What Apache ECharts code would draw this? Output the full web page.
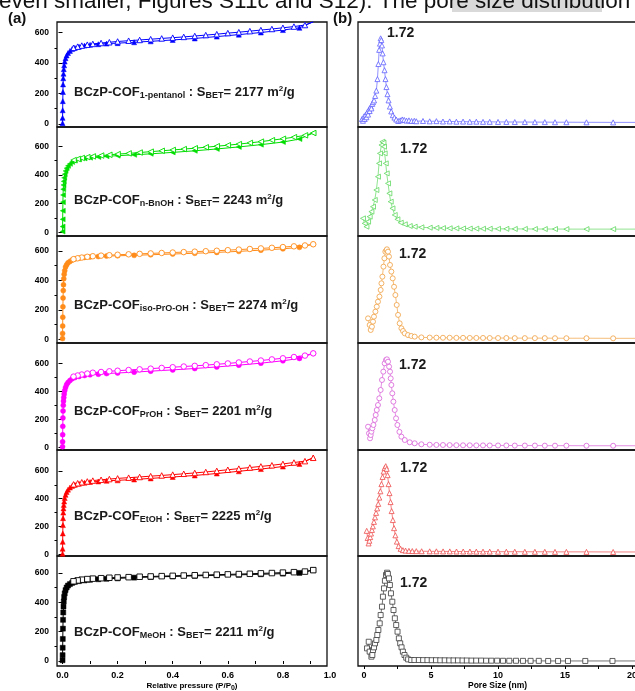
<!DOCTYPE html>
<html><head><meta charset="utf-8">
<script src="https://cdn.jsdelivr.net/npm/echarts@6/dist/echarts.min.js"></script>
<style>html,body{margin:0;padding:0;background:#fff}#c{width:635px;height:691px}</style>
</head><body><div id="c"></div>
<script>
// ---------- DATA ----------
const sampleSubs = ['1-pentanol', 'n-BnOH', 'iso-PrO-OH', 'PrOH', 'EtOH', 'MeOH'];
const sbetValues = [2177, 2243, 2274, 2201, 2225, 2211];
const peakLabels = ['1.72', '1.72', '1.72', '1.72', '1.72', '1.72'];

// N2 isotherms: relative pressure grids (adsorption / desorption)
const adsP = [0.0001,0.0003,0.0006,0.001,0.0015, 0.002,0.0027,0.0035,0.0045,0.006, 0.008,0.011,0.015,0.02,0.027, 0.035,0.045,0.06,0.08,0.1, 0.13,0.16,0.2,0.26,0.32, 0.4,0.48,0.56,0.64,0.72, 0.8,0.86,0.91];
const desP = [0.91,0.88,0.84,0.8,0.76, 0.72,0.68,0.64,0.6,0.56, 0.52,0.48,0.44,0.4,0.36, 0.32,0.28,0.24,0.2,0.17, 0.14,0.11,0.09,0.07,0.055, 0.04];

const adsPentanol = [5,40,90,150,210, 260,300,330,360,385, 410,432,450,466,480, 492,500,508,515,520, 524,528,531,537,543, 552,562,574,587,601, 617,632,671];
const desPentanol = [671,650,640,632,624, 617,610,603,597,590, 584,578,572,567,562, 557,552,547,542,537, 532,526,521,515,508, 500];
const adsBnOH = [5,40,90,150,210, 260,300,330,355,380, 405,428,447,463,477, 490,500,508,515,520, 525,530,534,540,547, 557,568,581,595,611, 629,650,692];
const desBnOH = [692,676,663,652,642, 632,623,615,607,600, 593,586,580,574,568, 562,556,550,545,540, 535,529,524,518,511, 503];
const adsIsoPrO = [5,40,90,150,220, 280,330,370,410,440, 465,490,505,518,528, 537,545,550,555,558, 561,564,566,569,573, 578,583,589,596,604, 613,623,644];
const desIsoPrO = [644,636,630,625,620, 616,612,608,604,600, 597,594,591,588,585, 582,579,576,573,570, 567,563,559,554,549, 543];
const adsPrOH = [5,40,90,150,210, 260,300,330,355,380, 405,428,448,463,477, 490,498,506,513,518, 522,527,531,537,544, 553,563,574,587,601, 618,635,671];
const desPrOH = [671,655,645,636,628, 620,613,606,599,593, 587,582,577,572,567, 562,557,552,547,543, 538,533,527,520,513, 505];
const adsEtOH = [5,40,90,150,210, 260,300,330,355,380, 405,428,448,465,480, 492,500,508,515,520, 524,529,532,538,546, 556,567,581,597,613, 631,650,694];
const desEtOH = [694,670,660,650,640, 632,624,616,608,600, 592,585,579,573,567, 562,556,551,546,541, 536,530,524,518,511, 503];
const adsMeOH = [5,40,90,150,220, 280,330,370,405,435, 460,482,500,513,523, 531,538,543,548,552, 556,559,562,567,571, 575,579,583,586,590, 594,599,618];
const desMeOH = [618,608,604,601,598, 596,593,591,589,587, 585,583,581,579,577, 575,573,570,568,566, 563,560,557,553,548, 542];

// Pore size distributions [pore size (nm), relative intensity]
const psdPentanol = [[0.30,0.09],[0.37,0.07],[0.45,0.12],[0.50,0.09],[0.57,0.14],[0.63,0.11],[0.70,0.17],[0.75,0.14],[0.82,0.20],[0.87,0.18],[0.95,0.23],[1.00,0.21],[1.06,0.26],[1.12,0.28],[1.20,0.30],[1.28,0.35],[1.37,0.41],[1.45,0.54],[1.52,0.71],[1.58,0.87],[1.64,0.94],[1.69,1.00],[1.74,0.98],[1.79,0.92],[1.84,0.83],[1.90,0.73],[1.98,0.64],[2.05,0.54],[2.12,0.45],[2.20,0.37],[2.28,0.30],[2.38,0.23],[2.48,0.175],[2.60,0.133],[2.72,0.106],[2.85,0.084],[3.00,0.068],[3.15,0.075],[3.30,0.085],[3.45,0.08],[3.62,0.072],[3.80,0.075],[4.00,0.068],[4.20,0.07],[4.35,0.065],[4.85,0.068],[5.35,0.064],[5.85,0.066],[6.34,0.062],[6.84,0.063],[7.34,0.06],[7.84,0.061],[8.34,0.059],[8.83,0.06],[9.33,0.058],[9.83,0.058],[10.45,0.057],[11.07,0.057],[11.70,0.056],[12.45,0.056],[13.20,0.055],[13.94,0.055],[14.70,0.054],[15.55,0.054],[17.05,0.053],[19.04,0.052],[22.0,0.052]];
const psdBnOH = [[0.27,0.187],[0.40,0.134],[0.53,0.099],[0.65,0.152],[0.77,0.205],[0.90,0.258],[1.02,0.311],[1.15,0.382],[1.27,0.488],[1.39,0.629],[1.47,0.77],[1.54,0.876],[1.65,0.965],[1.72,1.0],[1.80,0.989],[1.84,0.947],[1.89,0.876],[1.97,0.77],[2.04,0.664],[2.14,0.558],[2.24,0.452],[2.34,0.364],[2.47,0.293],[2.64,0.223],[2.84,0.177],[3.09,0.141],[3.39,0.124],[3.76,0.106],[4.13,0.099],[4.63,0.092],[5.25,0.088],[5.75,0.086],[6.24,0.084],[6.74,0.082],[7.24,0.081],[7.74,0.08],[8.24,0.079],[8.73,0.078],[9.23,0.077],[9.73,0.077],[10.35,0.076],[10.97,0.076],[11.6,0.075],[12.35,0.075],[13.1,0.074],[13.84,0.074],[14.6,0.074],[15.45,0.073],[16.95,0.073],[18.94,0.073],[22.0,0.073]];
const psdIsoPrO = [[0.31,0.263],[0.43,0.192],[0.51,0.139],[0.60,0.174],[0.68,0.228],[0.75,0.281],[0.86,0.335],[0.96,0.388],[1.05,0.441],[1.16,0.495],[1.25,0.566],[1.31,0.637],[1.38,0.708],[1.46,0.815],[1.53,0.904],[1.60,0.975],[1.68,0.99],[1.72,1.0],[1.80,0.975],[1.87,0.922],[1.95,0.833],[2.05,0.762],[2.15,0.69],[2.25,0.60],[2.35,0.512],[2.45,0.406],[2.55,0.30],[2.67,0.21],[2.80,0.157],[2.92,0.128],[3.05,0.103],[3.29,0.085],[3.54,0.075],[3.79,0.068],[4.29,0.06],[4.91,0.058],[5.41,0.057],[5.9,0.056],[6.4,0.056],[6.9,0.055],[7.4,0.055],[7.9,0.054],[8.39,0.054],[8.89,0.054],[9.39,0.053],[10.01,0.053],[10.63,0.053],[11.26,0.052],[12.01,0.052],[12.76,0.052],[13.5,0.052],[14.26,0.051],[15.11,0.051],[16.61,0.051],[18.6,0.05],[22.0,0.05]];
const psdPrOH = [[0.31,0.257],[0.38,0.184],[0.46,0.129],[0.51,0.165],[0.56,0.202],[0.63,0.239],[0.71,0.276],[0.81,0.331],[0.88,0.386],[0.96,0.441],[1.05,0.496],[1.15,0.57],[1.25,0.662],[1.35,0.772],[1.45,0.864],[1.55,0.956],[1.65,0.993],[1.72,1.0],[1.80,0.974],[1.88,0.919],[1.95,0.864],[2.00,0.79],[2.05,0.717],[2.12,0.625],[2.20,0.533],[2.30,0.441],[2.40,0.349],[2.50,0.276],[2.65,0.20],[2.80,0.147],[3.05,0.11],[3.42,0.085],[3.79,0.074],[4.29,0.063],[4.91,0.058],[5.41,0.056],[5.9,0.055],[6.4,0.054],[6.9,0.053],[7.4,0.052],[7.9,0.052],[8.39,0.051],[8.89,0.051],[9.39,0.05],[10.01,0.05],[10.63,0.05],[11.26,0.049],[12.01,0.049],[12.76,0.049],[13.5,0.048],[14.26,0.048],[15.11,0.048],[16.61,0.047],[18.6,0.047],[22.0,0.047]];
const psdEtOH = [[0.30,0.28],[0.37,0.20],[0.44,0.14],[0.50,0.17],[0.56,0.21],[0.62,0.25],[0.69,0.29],[0.76,0.33],[0.84,0.38],[0.92,0.43],[1.00,0.48],[1.08,0.53],[1.16,0.58],[1.24,0.65],[1.32,0.72],[1.40,0.80],[1.48,0.88],[1.56,0.94],[1.64,0.98],[1.72,1.0],[1.79,0.97],[1.86,0.90],[1.93,0.80],[2.00,0.70],[2.08,0.60],[2.16,0.50],[2.25,0.40],[2.34,0.31],[2.44,0.23],[2.55,0.16],[2.68,0.11],[2.83,0.08],[3.00,0.065],[3.20,0.06],[3.45,0.057],[3.70,0.055],[4.0,0.054],[4.4,0.053],[5.0,0.052],[5.5,0.052],[6.0,0.051],[6.5,0.051],[7.0,0.05],[7.5,0.05],[8.0,0.05],[8.48,0.049],[8.98,0.049],[9.48,0.049],[10.1,0.048],[10.72,0.048],[11.35,0.048],[12.1,0.047],[12.85,0.047],[13.59,0.047],[14.35,0.046],[15.2,0.046],[16.7,0.046],[18.69,0.045],[22.0,0.045]];
const psdMeOH = [[0.225,0.189],[0.35,0.26],[0.42,0.154],[0.55,0.10],[0.62,0.118],[0.67,0.171],[0.745,0.20],[0.82,0.243],[0.92,0.279],[0.99,0.332],[1.07,0.386],[1.17,0.457],[1.24,0.546],[1.34,0.636],[1.41,0.743],[1.49,0.832],[1.56,0.914],[1.64,0.975],[1.72,1.0],[1.78,0.986],[1.86,0.939],[1.93,0.868],[2.01,0.779],[2.11,0.689],[2.20,0.60],[2.30,0.511],[2.40,0.439],[2.50,0.368],[2.60,0.296],[2.70,0.243],[2.80,0.20],[2.90,0.154],[3.02,0.118],[3.15,0.089],[3.29,0.071],[3.52,0.064],[3.76,0.064],[4.09,0.064],[4.41,0.063],[4.73,0.063],[5.05,0.062],[5.37,0.062],[5.69,0.061],[6.02,0.061],[6.36,0.06],[6.68,0.06],[7.01,0.06],[7.35,0.059],[7.67,0.059],[8.02,0.058],[8.37,0.058],[8.74,0.058],[9.11,0.057],[9.50,0.057],[9.93,0.057],[10.37,0.056],[10.84,0.056],[11.34,0.056],[11.86,0.055],[12.43,0.055],[13.04,0.055],[13.74,0.054],[14.48,0.054],[15.22,0.054],[16.51,0.054],[18.54,0.054],[22.0,0.054]];

// Tick labels
const yTickLabels = [0, 200, 400, 600];
const yMinorTicks = [100, 300, 500];
const pTickLabels = [0, 0.2, 0.4, 0.6, 0.8];
const pTicks = [0, 0.1, 0.2, 0.3, 0.4, 0.5, 0.6, 0.7, 0.8, 0.9];
const sizeTickLabels = [0, 5, 10, 15, 20];
const sizeTicks = [0, 2.5, 5, 7.5, 10, 12.5, 15, 17.5, 20];

// ---------- BUILD ----------
const adsAll = [adsPentanol, adsBnOH, adsIsoPrO, adsPrOH, adsEtOH, adsMeOH];
const desAll = [desPentanol, desBnOH, desIsoPrO, desPrOH, desEtOH, desMeOH];
const psdAll = [psdPentanol, psdBnOH, psdIsoPrO, psdPrOH, psdEtOH, psdMeOH];

const tops = [22, 127, 236, 343, 450, 556];
const heights = [105, 109, 107, 107, 106, 110];
const yMinL = [-20, -26, -25, -19, -12, -34];
const yMaxL = [670, 734, 700, 745, 750, 714];
const xMinR = [0, -0.1, -0.44, -0.44, -0.35, -0.45];
const yMaxR = [1.184, 1.156, 1.142, 1.18, 1.18, 1.179];
const colL = ['#0000ff', '#00dd00', '#ff8c1a', '#ff00ff', '#ff0000', '#000000'];
const colR = ['#6060ff', '#60d860', '#f0a040', '#d860d8', '#ee4c4c', '#3a3a3a'];
const syms = ['triangle', 'triangle', 'circle', 'circle', 'triangle', 'rect'];
const rots = [0, 90, 0, 0, 0, 0];
const textY = [92, 200, 305, 411, 516, 632];
const peakX = [387, 400, 399, 399, 400, 400];
const peakY = [33, 149, 254, 365, 468, 583];
const FONT = 'Arial, "Liberation Sans", sans-serif';

const grid = [], xAxis = [], yAxis = [], series = [], graphic = [];
for (let i = 0; i < 6; i++) {
  grid.push({left: 57, top: tops[i], width: 270, height: heights[i], show: true, outerBoundsMode: 'none',
    containLabel: false, borderColor: '#111', borderWidth: 1.3, backgroundColor: 'transparent'});
}
for (let i = 0; i < 6; i++) {
  grid.push({left: 358, top: tops[i], width: 279, height: heights[i], show: true, outerBoundsMode: 'none',
    containLabel: false, borderColor: '#111', borderWidth: 1.3, backgroundColor: 'transparent'});
}
const rich = {
  s: {fontSize: 7, fontWeight: 'bold', fontFamily: FONT, color: '#000', padding: [6, 0, 0, 0]}
};
for (let i = 0; i < 6; i++) {
  const bottom = i === 5;
  xAxis.push({type: 'value', gridIndex: i, min: -0.02, max: 0.96,
    axisLine: {show: false}, splitLine: {show: false},
    axisTick: {show: bottom, customValues: pTicks, length: 3, lineStyle: {color: '#000', width: 1}},
    axisLabel: {show: bottom, customValues: pTickLabels, formatter: v => v.toFixed(1), fontSize: 9,
      fontWeight: 'bold', fontFamily: FONT, color: '#000', margin: 5},
    name: bottom ? 'Relative pressure (P/P{s|0})' : '', nameLocation: 'middle', nameGap: 13,
    nameTextStyle: {fontSize: 8, fontWeight: 'bold', fontFamily: FONT, color: '#000', rich: rich}
  });
}
for (let i = 0; i < 6; i++) {
  const bottom = i === 5;
  xAxis.push({type: 'value', gridIndex: 6 + i, min: xMinR[i], max: xMinR[i] + 20.82,
    axisLine: {show: false}, splitLine: {show: false},
    axisTick: {show: bottom, customValues: sizeTicks, length: 3, lineStyle: {color: '#000', width: 1}},
    axisLabel: {show: bottom, customValues: sizeTickLabels, fontSize: 9, fontWeight: 'bold',
      fontFamily: FONT, color: '#000', margin: 5},
    name: bottom ? 'Pore Size (nm)' : '', nameLocation: 'middle', nameGap: 14,
    nameTextStyle: {fontSize: 8.5, fontWeight: 'bold', fontFamily: FONT, color: '#000'}
  });
}
for (let i = 0; i < 6; i++) {
  yAxis.push({type: 'value', gridIndex: i, min: yMinL[i], max: yMaxL[i], position: 'left',
    axisLine: {show: false}, splitLine: {show: false},
    axisTick: {customValues: yTickLabels, length: 4, lineStyle: {color: '#000', width: 1}},
    axisLabel: {customValues: yTickLabels, fontSize: 8.5, fontWeight: 'bold', fontFamily: FONT,
      color: '#000', margin: 8}});
}
for (let i = 0; i < 6; i++) {
  yAxis.push({type: 'value', gridIndex: i, min: yMinL[i], max: yMaxL[i], position: 'left',
    axisLine: {show: false}, splitLine: {show: false},
    axisTick: {customValues: yMinorTicks, length: 2.5, lineStyle: {color: '#000', width: 1}},
    axisLabel: {show: false}});
}
for (let i = 0; i < 6; i++) {
  yAxis.push({type: 'value', gridIndex: 6 + i, min: 0, max: yMaxR[i], show: false});
}
for (let i = 0; i < 6; i++) {
  const c = colL[i];
  series.push({type: 'line', xAxisIndex: i, yAxisIndex: i, silent: true, showAllSymbol: true,
    data: adsP.map((p, k) => [p, adsAll[i][k]]),
    symbol: syms[i], symbolRotate: rots[i], symbolSize: 5,
    itemStyle: {color: c, borderColor: c, borderWidth: 0.5},
    lineStyle: {color: c, width: 1}, z: 3});
  series.push({type: 'line', xAxisIndex: i, yAxisIndex: i, silent: true, showAllSymbol: true,
    data: desP.map((p, k) => [p, desAll[i][k]]),
    symbol: syms[i], symbolRotate: rots[i], symbolSize: 5.5,
    itemStyle: {color: '#fff', borderColor: c, borderWidth: 0.9},
    lineStyle: {color: c, width: 1}, z: 4});
  const r = colR[i];
  series.push({type: 'line', xAxisIndex: 6 + i, yAxisIndex: 12 + i, silent: true, showAllSymbol: true,
    data: psdAll[i],
    symbol: syms[i], symbolRotate: rots[i], symbolSize: 5,
    itemStyle: {color: '#fff', borderColor: r, borderWidth: 0.8},
    lineStyle: {color: r, width: 0.7}, z: 3});
}

// texts
const txtRich = {
  s: {fontSize: 9, fontWeight: 'bold', fontFamily: FONT, fill: '#1a1a1a', padding: [7, 0, 0, 0]},
  p: {fontSize: 8, fontWeight: 'bold', fontFamily: FONT, fill: '#1a1a1a', padding: [0, 0, 7, 0]}
};
for (let i = 0; i < 6; i++) {
  graphic.push({type: 'text', x: 74, y: textY[i], z: 10,
    style: {text: 'BCzP-COF{s|' + sampleSubs[i] + '} : S{s|BET}= ' + sbetValues[i] + ' m{p|2}/g',
      font: 'bold 13px ' + FONT, fill: '#1a1a1a', verticalAlign: 'middle', rich: txtRich}});
  graphic.push({type: 'text', x: peakX[i], y: peakY[i], z: 10,
    style: {text: peakLabels[i], font: 'bold 14px ' + FONT, fill: '#1a1a1a', verticalAlign: 'middle'}});
}
graphic.push({type: 'rect', shape: {x: 452, y: 0, width: 150, height: 12}, style: {fill: '#d9d9d9'}, z: 1});
graphic.push({type: 'text', x: -1, y: 2, z: 10,
  style: {text: 'even smaller, Figures S11c and S12). The pore size distribution',
    font: '22.5px ' + FONT, fill: '#111', verticalAlign: 'middle'}});
graphic.push({type: 'text', x: 8, y: 19, z: 10,
  style: {text: '(a)', font: 'bold 15px ' + FONT, fill: '#111', verticalAlign: 'middle'}});
graphic.push({type: 'text', x: 333, y: 19, z: 10,
  style: {text: '(b)', font: 'bold 15px ' + FONT, fill: '#111', verticalAlign: 'middle'}});
graphic.push({type: 'text', x: 330, y: 676, z: 10,
  style: {text: '1.0', font: 'bold 9px ' + FONT, fill: '#000', align: 'center', verticalAlign: 'middle'}});

const chart = echarts.init(document.getElementById('c'), null, {renderer: 'canvas'});
chart.setOption({animation: false, backgroundColor: '#fff', grid, xAxis, yAxis, series, graphic});
</script></body></html>
